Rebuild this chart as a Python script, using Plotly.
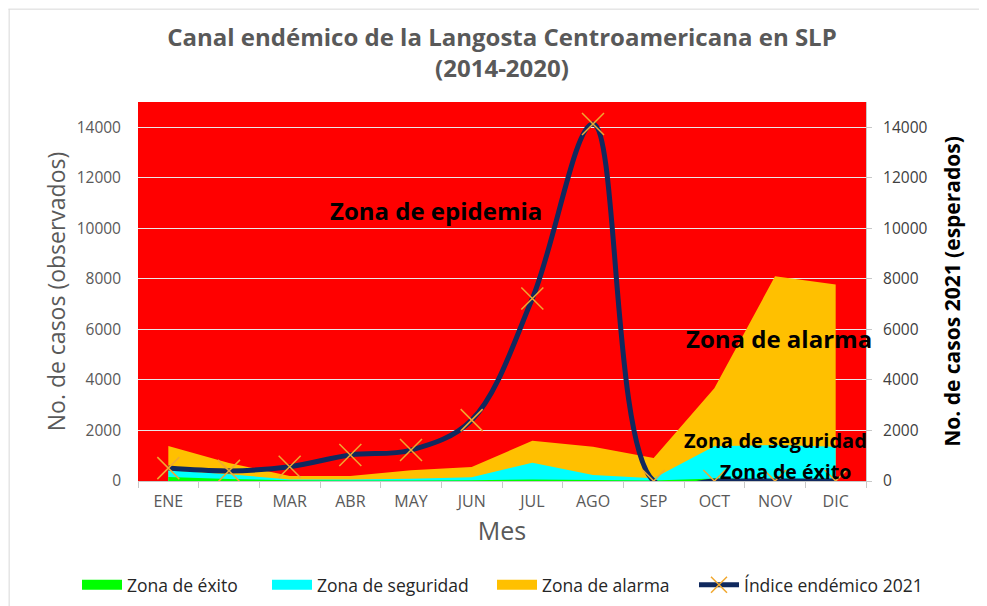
import plotly.graph_objects as go

meses = ['ENE', 'FEB', 'MAR', 'ABR', 'MAY', 'JUN', 'JUL', 'AGO', 'SEP', 'OCT', 'NOV', 'DIC']

# zonas del canal endémico (2014-2020)
zona_exito = [160, 80, 30, 20, 20, 30, 60, 40, 20, 100, 60, 40]
zona_seguridad = [430, 265, 60, 60, 90, 150, 720, 240, 105, 1380, 1420, 1360]
zona_alarma = [1390, 710, 200, 200, 430, 550, 1590, 1355, 910, 3670, 8100, 7780]

# índice endémico 2021
indice_2021 = [510, 400, 565, 1030, 1225, 2410, 7220, 14130, 0, 0, 0, 0]

y_ticks = [0, 2000, 4000, 6000, 8000, 10000, 12000, 14000]

FONT = 'Open Sans'
GRIS = '#595959'

fig = go.Figure()

# areas, la amarilla queda detras
zonas_area = [
    ('Zona de alarma', zona_alarma, '#ffc000', 'legend3'),
    ('Zona de seguridad', zona_seguridad, '#00ffff', 'legend2'),
    ('Zona de éxito', zona_exito, '#00ff00', 'legend'),
]
for nombre, valores, color, leg in zonas_area:
    fig.add_trace(go.Scatter(
        x=meses, y=valores, name=nombre, mode='none',
        fill='tozeroy', fillcolor=color, showlegend=False, hoverinfo='skip',
    ))
    # entrada de leyenda con barra gruesa, como en excel
    fig.add_trace(go.Scatter(
        x=[None], y=[None], name=nombre, mode='lines', legend=leg,
        line=dict(color=color, width=12),
    ))

fig.add_trace(go.Scatter(
    x=meses, y=indice_2021, name='Índice endémico 2021', yaxis='y2',
    mode='lines+markers', legend='legend4',
    line=dict(color='#10295e', width=5, shape='spline', smoothing=1.0),
    marker=dict(symbol='x-thin', size=22, color='#f0a830',
                line=dict(width=1.5, color='#f0a830')),
))

# la pagina tiene 8px de margen, por eso 979x598
fig.update_layout(
    width=979, height=598,
    margin=dict(l=130, r=121, t=94, b=125, autoexpand=False),
    paper_bgcolor='white',
    plot_bgcolor='#ff0000',
    font=dict(family=FONT, color=GRIS),
    title=dict(
        text='<b>Canal endémico de la Langosta Centroamericana en SLP<br>(2014-2020)</b>',
        x=0.5, xref='paper', xanchor='center', y=0.937, yanchor='middle',
        font=dict(size=24, color=GRIS, family=FONT),
    ),
    xaxis=dict(
        type='category', categoryorder='array', categoryarray=meses,
        range=[-0.5, 11.5], automargin=False,
        tickson='boundaries', ticks='outside', ticklen=6, tickcolor='#c8c8c8',
        ticklabelstandoff=6,
        showline=True, linecolor='#c8c8c8', showgrid=False,
        tickfont=dict(size=16, color=GRIS),
        title=dict(text='Mes', font=dict(size=25, color=GRIS), standoff=11),
    ),
    yaxis=dict(
        range=[0, 15000], tickvals=y_ticks, tickformat='d', automargin=False,
        showgrid=True, gridcolor='#e8e8e8', gridwidth=1, zeroline=False,
        showline=False, ticks='', ticklabelstandoff=16,
        tickfont=dict(size=15.5, color=GRIS),
        title=dict(text='No. de casos (observados)', font=dict(size=23, color=GRIS), standoff=4),
    ),
    yaxis2=dict(
        overlaying='y', side='right', automargin=False,
        range=[0, 15000], tickvals=y_ticks, tickformat='d',
        showgrid=False, zeroline=False,
        showline=True, linecolor='#c8c8c8',
        ticks='outside', ticklen=5, tickcolor='#c8c8c8', ticklabelstandoff=8,
        tickfont=dict(size=15.5, color='#404040'),
        title=dict(text='<b>No. de casos 2021 (esperados)</b>',
                   font=dict(size=21, color='black'), standoff=18),
    ),
    showlegend=True,
)

# una leyenda por serie para repartirlas como en el original
leyendas = [('legend', 80), ('legend2', 270), ('legend3', 495), ('legend4', 697)]
for nombre, px in leyendas:
    fig.update_layout({nombre: dict(
        orientation='h', x=(px - 138 - 3) / 728, xanchor='left',
        y=-0.274, yanchor='middle', itemwidth=40,
        font=dict(size=17.5, color='#262626'), bgcolor='rgba(0,0,0,0)',
    )})

# textos de las zonas
zonas = [
    ('Zona de epidemia', 4.42, 10725, 24),
    ('Zona de alarma', 10.07, 5650, 24),
    ('Zona de seguridad', 10.0, 1600, 20),
    ('Zona de éxito', 10.17, 390, 19.5),
]
for texto, xi, yi, size in zonas:
    fig.add_annotation(
        x=xi, y=yi, xref='x', yref='y', text=f'<b>{texto}</b>',
        showarrow=False, font=dict(size=size, color='black', family=FONT),
    )

# borde gris del grafico (arriba e izquierda)
fig.add_shape(type='line', xref='paper', yref='paper',
              x0=-0.178, x1=1.17, y0=1.245, y1=1.245,
              line=dict(color='#d9d9d9', width=1))
fig.add_shape(type='line', xref='paper', yref='paper',
              x0=-0.177, x1=-0.177, y0=1.245, y1=-0.33,
              line=dict(color='#d9d9d9', width=1))

fig.write_html('out.html')
